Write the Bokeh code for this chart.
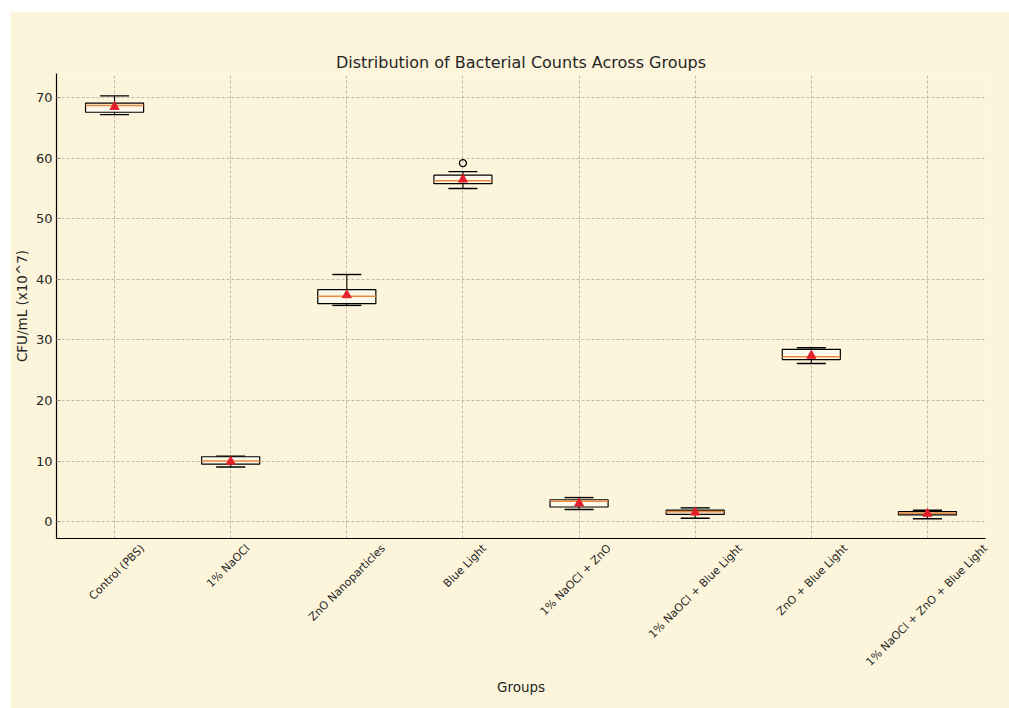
import math
from bokeh.plotting import figure
from bokeh.models import ColumnDataSource, Range1d, FixedTicker
from bokeh.embed import file_html
from bokeh.resources import INLINE

# ---- data ----
groups = ["Control (PBS)", "1% NaOCl", "ZnO Nanoparticles", "Blue Light",
          "1% NaOCl + ZnO", "1% NaOCl + Blue Light", "ZnO + Blue Light",
          "1% NaOCl + ZnO + Blue Light"]
whisker_low = [67.2, 9.0, 35.7, 55.0, 2.0, 0.55, 26.1, 0.45]
q1 = [67.6, 9.5, 36.0, 55.8, 2.4, 1.2, 26.75, 1.1]
median = [68.7, 10.0, 37.2, 56.3, 3.35, 1.6, 27.2, 1.37]
q3 = [69.1, 10.7, 38.3, 57.2, 3.6, 1.87, 28.45, 1.65]
whisker_high = [70.3, 10.8, 40.8, 57.8, 3.96, 2.26, 28.7, 1.87]
means = [68.5, 9.9, 37.4, 56.5, 3.0, 1.5, 27.4, 1.3]
outlier_group_index = [3]          # "Blue Light"
outlier_values = [59.2]
y_ticks = [0, 10, 20, 30, 40, 50, 60, 70]

FONT = "DejaVu Sans"
BG = "#FCF5DB"
TXT = "#262626"
Y0, Y1 = -2.8, 74
W, H = 999, 697
BL, BR = 46, 24

pos = [i + 1 for i in range(len(groups))]          # category positions
X0, X1 = 0.5, len(groups) + 0.5

p = figure(width=W, height=H, x_range=Range1d(X0, X1), y_range=Range1d(Y0, Y1),
           output_backend="svg", toolbar_location=None,
           title="Distribution of Bacterial Counts Across Groups",
           min_border_left=BL, min_border_right=BR, min_border_top=62, min_border_bottom=170)
p.margin = (11, 0, 0, 10)
p.background_fill_color = BG
p.border_fill_color = BG
p.outline_line_color = None

p.title.text_font = FONT
p.title.text_font_size = "16px"
p.title.text_font_style = "normal"
p.title.text_color = TXT
p.title.align = "center"
p.title.standoff = 3

# grid
p.grid.grid_line_color = "#b0ada0"
p.grid.grid_line_dash = "3 2"
p.grid.grid_line_width = 0.8
p.xgrid.ticker = FixedTicker(ticks=pos)

# y axis
p.yaxis.ticker = FixedTicker(ticks=y_ticks)
p.yaxis.axis_label = "CFU/mL (x10^7)"
p.yaxis.axis_label_text_font = FONT
p.yaxis.axis_label_text_font_size = "13.5px"
p.yaxis.axis_label_text_font_style = "normal"
p.yaxis.axis_label_text_color = TXT
p.yaxis.axis_label_standoff = 3
p.yaxis.major_label_text_font = FONT
p.yaxis.major_label_text_font_size = "13px"
p.yaxis.major_label_text_color = TXT
p.yaxis.major_label_standoff = 4
p.yaxis.major_tick_in = 4
p.yaxis.major_tick_out = 0
p.yaxis.minor_tick_line_color = None
p.yaxis.major_tick_line_color = "#999999"
p.yaxis.axis_line_color = "black"
p.yaxis.axis_line_width = 1.2

# x axis: rotated labels placed so that each one is centred on its category
# (matplotlib rotation=45, ha="center"); Bokeh anchors rotated labels at their end.
FS = 11
char_w = FS * 0.553
px_per_unit = (W - BL - BR) / (X1 - X0)
label_ticks = [min(x + (len(g) * char_w) * 0.7071 / 2 / px_per_unit, X1 - 1e-6)
               for x, g in zip(pos, groups)]
p.xaxis.ticker = FixedTicker(ticks=label_ticks)
p.xaxis.major_label_overrides = {t: g for t, g in zip(label_ticks, groups)}
p.xaxis.major_label_orientation = math.pi / 4
p.xaxis.major_label_text_font = FONT
p.xaxis.major_label_text_font_size = f"{FS}px"
p.xaxis.major_label_text_color = TXT
p.xaxis.major_label_standoff = 2
p.xaxis.major_tick_line_color = None
p.xaxis.minor_tick_line_color = None
p.xaxis.axis_label = "Groups"
p.xaxis.axis_label_text_font = FONT
p.xaxis.axis_label_text_font_size = "13.5px"
p.xaxis.axis_label_text_font_style = "normal"
p.xaxis.axis_label_text_color = TXT
p.xaxis.axis_label_standoff = 3
p.xaxis.axis_line_color = "black"
p.xaxis.axis_line_width = 1.2

src = ColumnDataSource(dict(x=pos, lo=whisker_low, q1=q1, med=median, q3=q3,
                            hi=whisker_high, mean=means,
                            cl=[x - 0.125 for x in pos], cr=[x + 0.125 for x in pos],
                            bl=[x - 0.25 for x in pos], br=[x + 0.25 for x in pos]))

# whiskers
p.segment(x0="x", x1="x", y0="q3", y1="hi", source=src, line_color="black", line_width=1.1)
p.segment(x0="x", x1="x", y0="lo", y1="q1", source=src, line_color="black", line_width=1.1)
# caps
p.segment(x0="cl", x1="cr", y0="hi", y1="hi", source=src, line_color="black", line_width=1.4)
p.segment(x0="cl", x1="cr", y0="lo", y1="lo", source=src, line_color="black", line_width=1.4)
# boxes
p.vbar(x="x", width=0.5, top="q3", bottom="q1", source=src,
       fill_color="white", fill_alpha=0.45, line_color="black", line_width=1.2)
# medians
p.segment(x0="bl", x1="br", y0="med", y1="med", source=src, line_color="#F0883A", line_width=1.5)
# means
p.scatter(x="x", y="mean", source=src, marker="triangle", size=9,
          fill_color="#E41E2B", line_color="#E41E2B")
# outliers
p.scatter(x=[pos[i] for i in outlier_group_index], y=outlier_values, marker="circle", size=7,
          fill_color=None, line_color="black", line_width=1.3)

open("out.html", "w").write(file_html(p, INLINE))
